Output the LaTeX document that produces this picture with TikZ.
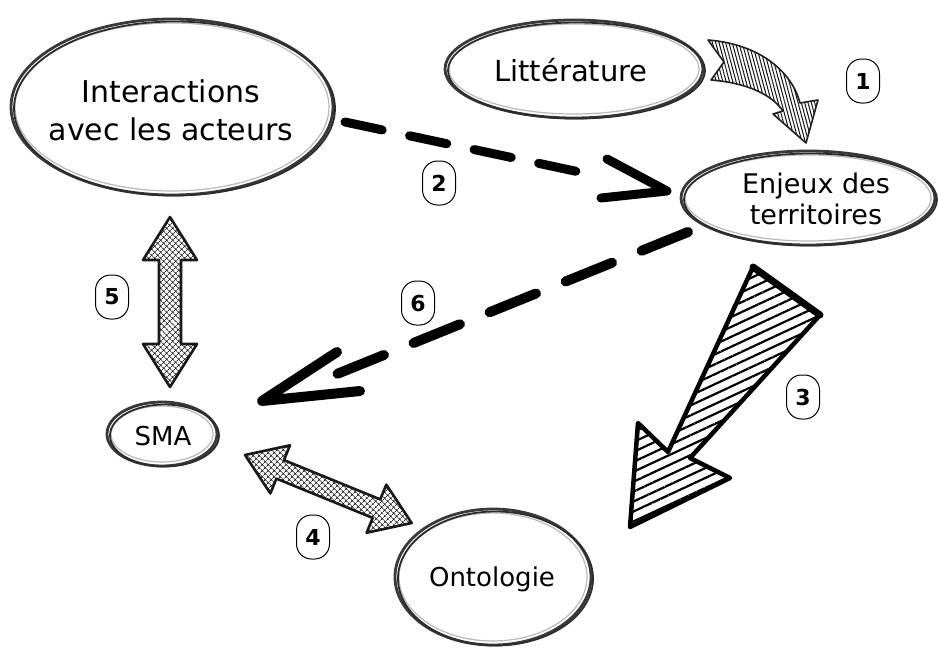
\documentclass[tikz,border=0pt]{standalone}
\usepackage{fontspec}
\setmainfont{DejaVu Sans}
\usetikzlibrary{shapes.geometric,patterns.meta,calc}
\newcommand\sketchring[3]{%
  \draw[ringin] (#1.center) ellipse [x radius=#2pt-4pt, y radius=#3pt-4pt];
  \draw[ringout] ($(#1.center)+(2.5,1.5)$) ellipse [x radius=#2pt-0.5pt, y radius=#3pt-1pt];
}
\begin{document}
\begin{tikzpicture}[x=1pt,y=-1pt,
  oval/.style={ellipse, draw=gray!45!black, line width=2.8pt, inner sep=0pt},
  ringin/.style={draw=gray!55, line width=1.2pt},
  ringout/.style={draw=gray!35!black, line width=1.8pt},
  lbl/.style={inner sep=0pt, align=center},
  numbox/.style={draw=black, line width=1pt, rounded corners=15pt, minimum width=33pt, minimum height=44pt, inner sep=0pt, font=\fontsize{22}{22}\selectfont\bfseries},
  dashline/.style={line width=9pt, line cap=round},
  chevron/.style={line width=9pt, line cap=round, line join=round},
  arrowone/.style={draw=gray!25!black, line width=1.6pt, line join=round, pattern={Lines[angle=105,distance=3.2pt,line width=1pt]}, pattern color=gray!15!black},
  arrowthree/.style={draw=black, line width=4.5pt, line join=round, pattern={Lines[angle=25,distance=9pt,line width=2.2pt]}, pattern color=black},
  dblarrow/.style={draw=black!90, line width=2.6pt, line join=round, pattern={Hatch[angle=45,distance=4pt,line width=0.8pt]}, pattern color=black!85}
]
\useasboundingbox (0,0) rectangle (938,648);
\fill[white] (0,0) rectangle (938,648);

% ellipses
\node[oval, minimum width=322pt, minimum height=176pt] (inter) at (172,107) {};
\node[lbl, font=\fontsize{30}{38}\selectfont] (intert) at (171,110) {Interactions\\avec les acteurs};
\sketchring{inter}{161}{88}

\node[oval, minimum width=258pt, minimum height=98pt] (litt) at (574,69) {};
\node[lbl, font=\fontsize{29}{34}\selectfont] (littt) at (571,70) {Littérature};
\sketchring{litt}{129}{49}

\node[oval, minimum width=254pt, minimum height=94pt] (enj) at (808,198) {};
\node[lbl, font=\fontsize{27}{31}\selectfont] (enjt) at (816,199) {Enjeux des\\territoires};
\sketchring{enj}{127}{47}

\node[oval, minimum width=110pt, minimum height=64pt] (sma) at (162,434) {};
\node[lbl, font=\fontsize{26}{30}\selectfont] (smat) at (163,436) {SMA};
\sketchring{sma}{55}{32}

\node[oval, minimum width=196pt, minimum height=136pt] (onto) at (493,577) {};
\node[lbl, font=\fontsize{26}{30}\selectfont] (ontot) at (492,579) {Ontologie};
\sketchring{onto}{98}{68}

% arrow 1 (curved, hatched)
\draw[arrowone] (708,40) .. controls (760,44) and (792,72) .. (800,103) -- (818,100) -- (806,143) -- (773,114) -- (783,111) .. controls (772,95) and (748,83) .. (711,80) -- (724,62) -- cycle;

% arrow 2 (dashed)
\coordinate (a2s) at (345,122);
\coordinate (a2e) at (598,176);
\coordinate (a2t) at (667,191);
\draw[dashline, dash pattern=on 38pt off 28pt] (a2s) -- (a2e);
\draw[chevron] (607,159) -- (a2t) -- (601,198);

% arrow 3 (big hatched)
\draw[arrowthree] (753,267) -- (820,315) -- (690,458) -- (730,478) -- (630,527) -- (638,423) -- (668,452) -- cycle;
\draw[line width=7pt, line cap=round] (753,267) -- (820,315);

% arrow 6 (dashed)
\coordinate (a6s) at (688,232);
\coordinate (a6e) at (327,378);
\coordinate (a6t) at (262,401);
\draw[dashline, line width=10pt, dash pattern=on 50pt off 32pt] (a6s) -- (a6e);
\draw[chevron, line width=10pt] (337,352) -- (a6t) -- (360,391);

% arrow 4 (double, crosshatched)
\begin{scope}[shift={(245,455)}, rotate=-22.2]
\draw[dblarrow] (0,0) -- (38,26) -- (38,10) -- (142,10) -- (142,26) -- (180,0) -- (142,-26) -- (142,-10) -- (38,-10) -- (38,-26) -- cycle;
\end{scope}

% arrow 5 (double, crosshatched)
\begin{scope}[shift={(170,217)}, rotate=-90]
\draw[dblarrow] (0,0) -- (43,27) -- (43,11) -- (127,11) -- (127,27) -- (170,0) -- (127,-27) -- (127,-11) -- (43,-11) -- (43,-27) -- cycle;
\end{scope}

% numbers
\node[numbox] (n1) at (863,81) {1};
\node[numbox] (n2) at (439,183) {2};
\node[numbox] (n3) at (803,397) {3};
\node[numbox] (n4) at (313,537) {4};
\node[numbox] (n5) at (112,297) {5};
\node[numbox] (n6) at (418,303) {6};
\end{tikzpicture}
\end{document}
